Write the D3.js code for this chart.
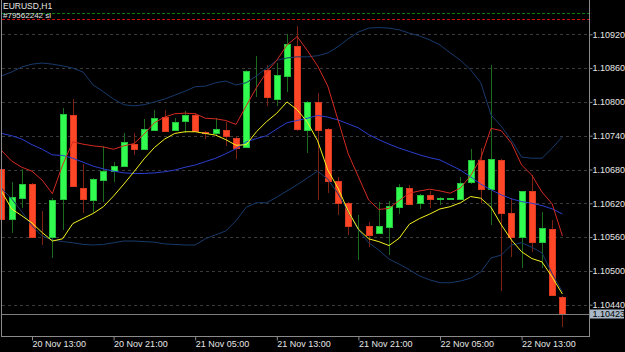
<!DOCTYPE html>
<html>
<head>
<meta charset="utf-8">
<script src="https://cdn.jsdelivr.net/npm/d3@7"></script>
<style>
  html, body { margin: 0; padding: 0; background: #000; }
  svg { display: block; }
  text { font-family: "Liberation Sans", Arial, sans-serif; font-size: 9px; fill: #e6e6e6; }
</style>
</head>
<body>
<svg id="chart" width="625" height="352"></svg>
<script>
'use strict';

/* -- EURUSD H1, 20 Nov 10:00 .. 22 Nov 17:00 ------------------------------ */
const opens = [1.10681,1.10593,1.10630,1.10654,1.10561,1.10561,1.10628,1.10777,1.10648,1.10626,
  1.10661,1.10678,1.10686,1.10725,1.10716,1.10750,1.10773,1.10751,1.10766,1.10777,
  1.10747,1.10744,1.10750,1.10736,1.10720,1.10856,1.10857,1.10806,1.10846,1.10900,
  1.10751,1.10799,1.10752,1.10659,1.10620,1.10579,1.10580,1.10568,1.10578,1.10614,
  1.10648,1.10620,1.10634,1.10628,1.10628,1.10628,1.10657,1.10696,1.10645,1.10697,
  1.10603,1.10561,1.10642,1.10552,1.10574,1.10453];
const highs = [1.10686,1.10657,1.10681,1.10656,1.10607,1.10629,1.10790,1.10806,1.10690,1.10665,
  1.10722,1.10694,1.10744,1.10744,1.10769,1.10786,1.10786,1.10771,1.10783,1.10780,
  1.10748,1.10771,1.10765,1.10740,1.10857,1.10882,1.10866,1.10869,1.10921,1.10935,
  1.10802,1.10816,1.10754,1.10667,1.10622,1.10599,1.10586,1.10623,1.10624,1.10654,
  1.10653,1.10637,1.10641,1.10631,1.10630,1.10666,1.10716,1.10719,1.10866,1.10699,
  1.10629,1.10642,1.10670,1.10605,1.10590,1.10455];
const lows = [1.10587,1.10567,1.10612,1.10558,1.10546,1.10523,1.10573,1.10649,1.10603,1.10603,
  1.10623,1.10657,1.10684,1.10706,1.10715,1.10748,1.10748,1.10750,1.10745,1.10747,
  1.10734,1.10742,1.10722,1.10699,1.10718,1.10809,1.10793,1.10792,1.10818,1.10748,
  1.10709,1.10626,1.10638,1.10599,1.10564,1.10519,1.10543,1.10566,1.10528,1.10601,
  1.10618,1.10609,1.10611,1.10617,1.10626,1.10627,1.10655,1.10620,1.10582,1.10465,
  1.10525,1.10505,1.10534,1.10505,1.10455,1.10401];
const closes = [1.10592,1.10631,1.10655,1.10560,1.10560,1.10626,1.10779,1.10651,1.10628,1.10663,
  1.10677,1.10686,1.10728,1.10716,1.10752,1.10772,1.10749,1.10764,1.10777,1.10748,
  1.10744,1.10752,1.10740,1.10718,1.10855,1.10857,1.10809,1.10847,1.10903,1.10752,
  1.10800,1.10751,1.10660,1.10620,1.10580,1.10580,1.10563,1.10580,1.10616,1.10649,
  1.10619,1.10635,1.10628,1.10629,1.10629,1.10656,1.10697,1.10645,1.10699,1.10602,
  1.10560,1.10641,1.10551,1.10576,1.10457,1.10423];

/* -- indicator lines, one value per bar ----------------------------------- */
const maYellow = [1.10642,1.10610,1.10598,1.10585,1.10568,1.10553,1.10557,1.10584,1.10593,1.10602,
  1.10614,1.10633,1.10654,1.10676,1.10699,1.10719,1.10734,1.10744,1.10747,1.10747,
  1.10744,1.10741,1.10733,1.10723,1.10724,1.10747,1.10765,1.10780,1.10800,1.10786,
  1.10764,1.10731,1.10679,1.10647,1.10606,1.10574,1.10557,1.10552,1.10545,1.10558,
  1.10583,1.10593,1.10601,1.10610,1.10614,1.10621,1.10632,1.10629,1.10613,1.10582,
  1.10555,1.10534,1.10522,1.10516,1.10489,1.10459];
const maRed = [1.10714,1.10695,1.10684,1.10677,1.10661,1.10637,1.10688,1.10729,1.10725,1.10722,
  1.10720,1.10716,1.10722,1.10726,1.10743,1.10763,1.10773,1.10779,1.10780,1.10779,
  1.10771,1.10770,1.10767,1.10760,1.10793,1.10825,1.10853,1.10874,1.10901,1.10916,
  1.10891,1.10864,1.10828,1.10768,1.10708,1.10667,1.10626,1.10609,1.10611,1.10625,
  1.10638,1.10642,1.10645,1.10642,1.10638,1.10647,1.10669,1.10700,1.10753,1.10749,
  1.10727,1.10688,1.10670,1.10640,1.10619,1.10562];
const bbMid = [1.10744,1.10740,1.10734,1.10724,1.10716,1.10706,1.10705,1.10700,1.10693,1.10686,
  1.10681,1.10677,1.10674,1.10673,1.10673,1.10674,1.10676,1.10679,1.10684,1.10688,
  1.10694,1.10700,1.10708,1.10717,1.10729,1.10735,1.10740,1.10752,1.10763,1.10767,
  1.10771,1.10776,1.10773,1.10768,1.10761,1.10754,1.10742,1.10733,1.10725,1.10718,
  1.10712,1.10706,1.10701,1.10697,1.10688,1.10679,1.10667,1.10654,1.10644,1.10635,
  1.10628,1.10623,1.10620,1.10616,1.10610,1.10601];
const bbUpper = [1.10846,1.10853,1.10862,1.10867,1.10869,1.10867,1.10864,1.10860,1.10853,1.10830,
  1.10818,1.10805,1.10795,1.10793,1.10795,1.10800,1.10805,1.10812,1.10819,1.10827,
  1.10828,1.10834,1.10837,1.10830,1.10834,1.10846,1.10860,1.10874,1.10878,1.10880,
  1.10880,1.10882,1.10887,1.10898,1.10912,1.10924,1.10931,1.10932,1.10931,1.10928,
  1.10922,1.10917,1.10910,1.10901,1.10887,1.10874,1.10857,1.10834,1.10777,1.10757,
  1.10732,1.10702,1.10700,1.10700,1.10718,1.10738];
const bbLower = [1.10647,1.10628,1.10605,1.10580,1.10562,1.10555,1.10552,1.10550,1.10547,1.10546,
  1.10547,1.10550,1.10553,1.10553,1.10552,1.10551,1.10548,1.10547,1.10546,1.10546,
  1.10557,1.10564,1.10571,1.10589,1.10613,1.10621,1.10621,1.10631,1.10642,1.10653,
  1.10665,1.10677,1.10663,1.10637,1.10605,1.10573,1.10550,1.10537,1.10521,1.10512,
  1.10502,1.10491,1.10484,1.10479,1.10479,1.10482,1.10487,1.10498,1.10523,1.10528,
  1.10546,1.10550,1.10542,1.10532,1.10495,1.10463];

/* -- axis ticks and levels ------------------------------------------------ */
const priceTicks = [1.10920, 1.10860, 1.10800, 1.10740, 1.10680, 1.10620, 1.10560, 1.10500, 1.10440];
const timeTickLabels = ['20 Nov 13:00', '20 Nov 21:00', '21 Nov 05:00', '21 Nov 13:00',
                        '21 Nov 21:00', '22 Nov 05:00', '22 Nov 13:00'];
const currentPrice = 1.10423;
const orderLevel = 1.10957;
const stopLevel = 1.10948;

const firstBar = new Date(Date.UTC(2017, 10, 20, 10));
const times = d3.utcHour.range(firstBar, d3.utcHour.offset(firstBar, opens.length));
const parseTick = d3.utcParse('%Y %d %b %H:%M');
const labelTimes = timeTickLabels.map(function(s) { return parseTick('2017 ' + s); });
const gridTimes = d3.utcHour.every(4).range(labelTimes[0], d3.utcHour.offset(times[times.length - 1], 1))
  .filter(function(t) { return t.getUTCHours() % 4 === 1; });

/* -- layout --------------------------------------------------------------- */
const plotLeft = 1.5, plotRight = 589.5, plotBottom = 336.5;
const svg = d3.select('#chart');

const x = d3.scaleUtc()
  .domain([times[0], times[times.length - 1]])
  .range([1.4, 562.4]);
const y = d3.scaleLinear()
  .domain([1.10440, 1.10920])
  .range([304.7, 34.3]);

const crisp = function(v) { return Math.round(v) + 0.5; };

/* -- grid ----------------------------------------------------------------- */
const grid = svg.append('g').attr('class', 'grid')
  .attr('stroke', '#3a3a3a').attr('stroke-dasharray', '3,3').attr('shape-rendering', 'crispEdges');
grid.selectAll('line.h').data(priceTicks).enter().append('line')
  .attr('class', 'h')
  .attr('x1', plotLeft).attr('x2', plotRight)
  .attr('y1', function(d) { return crisp(y(d)); })
  .attr('y2', function(d) { return crisp(y(d)); });
grid.selectAll('line.v').data(gridTimes).enter().append('line')
  .attr('class', 'v')
  .attr('y1', 0).attr('y2', plotBottom)
  .attr('x1', function(d) { return crisp(x(d)); })
  .attr('x2', function(d) { return crisp(x(d)); });

/* -- order lines ---------------------------------------------------------- */
svg.append('line')
  .attr('x1', plotLeft).attr('x2', plotRight)
  .attr('y1', crisp(y(orderLevel))).attr('y2', crisp(y(orderLevel)))
  .attr('stroke', '#0b7a14').attr('stroke-dasharray', '3,2').attr('shape-rendering', 'crispEdges');
svg.append('line')
  .attr('x1', plotLeft).attr('x2', plotRight)
  .attr('y1', crisp(y(stopLevel))).attr('y2', crisp(y(stopLevel)))
  .attr('stroke', '#d01010').attr('stroke-dasharray', '3,2').attr('shape-rendering', 'crispEdges');

/* -- candles -------------------------------------------------------------- */
const bars = d3.range(opens.length).map(function(i) {
  return { t: times[i], o: opens[i], h: highs[i], l: lows[i], c: closes[i], up: closes[i] >= opens[i] };
});
const candles = svg.append('g').attr('class', 'candles').attr('shape-rendering', 'crispEdges');
candles.selectAll('line').data(bars).enter().append('line')
  .attr('x1', function(d) { return crisp(x(d.t)); })
  .attr('x2', function(d) { return crisp(x(d.t)); })
  .attr('y1', function(d) { return y(d.h); })
  .attr('y2', function(d) { return y(d.l); })
  .attr('stroke', function(d) { return d.up ? '#1b6b1f' : '#7c2214'; });
candles.selectAll('rect').data(bars).enter().append('rect')
  .attr('x', function(d) { return Math.round(x(d.t)) - 3 + 0.5; })
  .attr('width', 6)
  .attr('y', function(d) { return Math.round(y(Math.max(d.o, d.c))) + 0.5; })
  .attr('height', function(d) { return Math.max(0, Math.round(y(Math.min(d.o, d.c))) - Math.round(y(Math.max(d.o, d.c)))); })
  .attr('fill', function(d) { return d.up ? '#31fb4f' : '#ff4626'; })
  .attr('stroke', function(d) { return d.up ? '#25c23c' : '#d93a20'; });

/* -- indicators ----------------------------------------------------------- */
const line = d3.line()
  .x(function(d, i) { return x(times[i]); })
  .y(function(d) { return y(d); });
const series = [
  { values: bbUpper, color: '#173a6c' },
  { values: bbLower, color: '#173a6c' },
  { values: bbMid, color: '#2a3fd0' },
  { values: maRed, color: '#d42a22' },
  { values: maYellow, color: '#f5f21e' }
];
svg.append('g').attr('class', 'indicators').selectAll('path').data(series).enter().append('path')
  .attr('d', function(d) { return line(d.values); })
  .attr('fill', 'none')
  .attr('stroke', function(d) { return d.color; })
  .attr('stroke-width', 1);

/* -- current price line --------------------------------------------------- */
svg.append('line')
  .attr('x1', plotLeft).attr('x2', plotRight)
  .attr('y1', crisp(y(currentPrice))).attr('y2', crisp(y(currentPrice)))
  .attr('stroke', '#7d7d7d').attr('shape-rendering', 'crispEdges');

/* -- frame ---------------------------------------------------------------- */
svg.append('path')
  .attr('d', 'M' + plotLeft + ',0V' + plotBottom + 'H' + plotRight + 'V0')
  .attr('fill', 'none').attr('stroke', '#8a8a8a').attr('shape-rendering', 'crispEdges');

/* -- axes ----------------------------------------------------------------- */
const yAxis = d3.axisRight(y)
  .tickValues(priceTicks)
  .tickSize(3)
  .tickPadding(0)
  .tickFormat(d3.format('.5f'));
const yAxisElement = svg.append('g')
  .attr('class', 'y axis')
  .attr('transform', 'translate(' + plotRight + ',0)')
  .call(yAxis);
yAxisElement.select('.domain').remove();
yAxisElement.selectAll('line').attr('stroke', '#8a8a8a');
yAxisElement.selectAll('text').attr('fill', '#e6e6e6');
yAxisElement.attr('font-family', null).attr('font-size', null);

const xAxis = d3.axisBottom(x)
  .tickValues(labelTimes)
  .tickSize(4)
  .tickFormat(function(d, i) { return timeTickLabels[i]; });
const xAxisElement = svg.append('g')
  .attr('class', 'x axis')
  .attr('transform', 'translate(0,' + plotBottom + ')')
  .call(xAxis);
xAxisElement.select('.domain').remove();
xAxisElement.selectAll('line').attr('stroke', '#8a8a8a');
xAxisElement.selectAll('text')
  .attr('fill', '#e6e6e6')
  .attr('x', 0).attr('y', 4)
  .style('text-anchor', 'start');
xAxisElement.attr('font-family', null).attr('font-size', null);

/* -- current price tag ---------------------------------------------------- */
const tagY = y(currentPrice);
svg.append('rect')
  .attr('x', plotRight + 0.5).attr('y', Math.round(tagY) - 4.5)
  .attr('width', 34).attr('height', 9)
  .attr('fill', '#a9b8c8');
svg.append('text')
  .attr('x', plotRight + 3).attr('y', tagY)
  .attr('dy', '0.32em')
  .style('fill', '#000')
  .text(d3.format('.5f')(currentPrice));

/* -- titles --------------------------------------------------------------- */
svg.append('text').attr('x', 3).attr('y', 8.5).style('font-size', '8.5px').text('EURUSD,H1');
svg.append('text').attr('x', 3).attr('y', 17.5).style('font-size', '8px').text('#79562242 sl');
</script>
</body>
</html>
